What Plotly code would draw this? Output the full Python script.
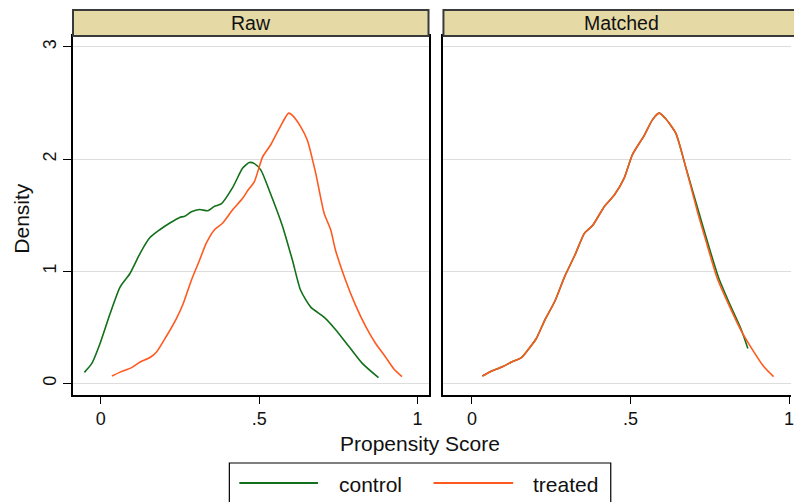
import plotly.graph_objects as go

# Kernel density estimates of the propensity score, before and after matching
raw_control_x = [-0.052, -0.028, -0.002, 0.029, 0.061, 0.092, 0.124, 0.155, 0.186, 0.218,
                 0.249, 0.265, 0.286, 0.312, 0.338, 0.359, 0.380, 0.417, 0.448, 0.469,
                 0.485, 0.506, 0.532, 0.574, 0.605, 0.631, 0.663, 0.705, 0.741, 0.783,
                 0.825, 0.877]
raw_control_y = [0.098, 0.18, 0.36, 0.62, 0.86, 0.98, 1.16, 1.30, 1.37, 1.43,
                 1.48, 1.49, 1.53, 1.55, 1.54, 1.58, 1.60, 1.75, 1.92, 1.97,
                 1.96, 1.90, 1.72, 1.40, 1.10, 0.83, 0.68, 0.59, 0.48, 0.33,
                 0.18, 0.05]

raw_treated_x = [0.035, 0.061, 0.097, 0.124, 0.155, 0.176, 0.207, 0.239, 0.260, 0.286,
                 0.312, 0.333, 0.359, 0.385, 0.417, 0.448, 0.464, 0.485, 0.511, 0.537,
                 0.563, 0.593, 0.605, 0.631, 0.652, 0.679, 0.705, 0.726, 0.741, 0.773,
                 0.804, 0.836, 0.867, 0.898, 0.925, 0.951]
raw_treated_y = [0.065, 0.10, 0.14, 0.19, 0.23, 0.28, 0.42, 0.58, 0.71, 0.92,
                 1.10, 1.25, 1.37, 1.43, 1.55, 1.65, 1.72, 1.80, 2.02, 2.13,
                 2.27, 2.41, 2.39, 2.29, 2.17, 1.87, 1.52, 1.37, 1.19, 0.92,
                 0.70, 0.51, 0.36, 0.24, 0.13, 0.06]

matched_treated_x = [0.033, 0.062, 0.098, 0.125, 0.156, 0.177, 0.203, 0.229, 0.261, 0.292,
                     0.324, 0.355, 0.381, 0.418, 0.449, 0.480, 0.506, 0.543, 0.569, 0.590,
                     0.611, 0.643, 0.674, 0.712, 0.742, 0.773, 0.810, 0.847, 0.878, 0.920,
                     0.951]
matched_treated_y = [0.065, 0.11, 0.15, 0.19, 0.23, 0.30, 0.40, 0.56, 0.73, 0.95,
                     1.14, 1.34, 1.41, 1.58, 1.68, 1.83, 2.04, 2.21, 2.35, 2.41,
                     2.36, 2.23, 1.93, 1.52, 1.23, 0.94, 0.70, 0.48, 0.33, 0.15,
                     0.06]

matched_control_x = [0.033, 0.062, 0.098, 0.125, 0.156, 0.177, 0.203, 0.229, 0.261, 0.292,
                     0.324, 0.355, 0.381, 0.418, 0.449, 0.480, 0.506, 0.543, 0.569, 0.590,
                     0.611, 0.643, 0.674, 0.716, 0.746, 0.778, 0.814, 0.849, 0.870]
matched_control_y = [0.065, 0.11, 0.15, 0.19, 0.23, 0.30, 0.40, 0.56, 0.73, 0.95,
                     1.14, 1.34, 1.41, 1.58, 1.68, 1.83, 2.04, 2.21, 2.35, 2.41,
                     2.36, 2.23, 1.93, 1.52, 1.23, 0.94, 0.70, 0.48, 0.31]

panel_titles = ["Raw", "Matched"]
series_names = ["control", "treated"]
x_tick_vals = [0, 0.5, 1]
x_tick_text = ["0", ".5", "1"]
y_tick_vals = [0, 1, 2, 3]
y_tick_text = ["0", "1", "2", "3"]

GREEN = "#13701a"
ORANGE = "#ff5a1e"
STRIP = "#e5d9a6"
FONT = "Liberation Sans, Arial, Helvetica, sans-serif"

W, H = 794, 502
ML, MR, MT, MB = 73, 0, 10, 107


def px_x(p):
    return (p - ML) / (W - ML - MR)


def px_y(p):
    return (H - MB - p) / (H - MT - MB)


fig = go.Figure()

line_kw = dict(mode="lines", line_shape="spline", hoverinfo="skip", showlegend=False)
fig.add_trace(go.Scatter(x=raw_control_x, y=raw_control_y, xaxis="x", yaxis="y",
                         line=dict(color=GREEN, width=1.6, smoothing=0.6), name=series_names[0], **line_kw))
fig.add_trace(go.Scatter(x=raw_treated_x, y=raw_treated_y, xaxis="x", yaxis="y",
                         line=dict(color=ORANGE, width=1.6, smoothing=0.6), name=series_names[1], **line_kw))
fig.add_trace(go.Scatter(x=matched_control_x, y=matched_control_y, xaxis="x2", yaxis="y2",
                         line=dict(color=GREEN, width=1.6, smoothing=0.6), name=series_names[0], **line_kw))
fig.add_trace(go.Scatter(x=matched_treated_x, y=matched_treated_y, xaxis="x2", yaxis="y2",
                         line=dict(color=ORANGE, width=1.6, smoothing=0.6), name=series_names[1], **line_kw))

ydom = [0, px_y(36)]
tickfont = dict(family=FONT, size=18, color="#111111")

xcommon = dict(tickvals=x_tick_vals, ticktext=x_tick_text, ticks="outside", ticklen=7,
               tickwidth=1.2, tickcolor="#000000", showgrid=False, zeroline=False,
               showline=True, linecolor="#000000", linewidth=1.5, mirror=True,
               tickfont=tickfont, ticklabeloverflow="allow")
ycommon = dict(range=[-0.104, 3.098], tickvals=y_tick_vals, showgrid=True,
               gridcolor="#dddddd", gridwidth=1.2, zeroline=False, domain=ydom)

fig.update_layout(
    width=W, height=H,
    margin=dict(l=ML, r=MR, t=MT, b=MB),
    paper_bgcolor="white", plot_bgcolor="white",
    font=dict(family=FONT, color="#111111"),
    showlegend=False,
    xaxis=dict(domain=[0, px_x(430)], range=[-0.088, 1.035], anchor="y", **xcommon),
    xaxis2=dict(domain=[px_x(445), 1], range=[-0.0898, 1.006], anchor="y2", **xcommon),
    yaxis=dict(anchor="x", ticktext=y_tick_text, ticks="outside", ticklen=8, tickwidth=1.2,
               tickcolor="#000000", tickangle=-90, tickfont=tickfont, ticklabelstandoff=0,
               showline=True, linecolor="#000000", linewidth=1.5, mirror=True, **ycommon),
    yaxis2=dict(anchor="x2", showticklabels=False, ticks="",
                showline=True, linecolor="#000000", linewidth=1.5, mirror=False, **ycommon),
)

shapes = []
annotations = []

# Panel header strips
for (x0, x1, title, cx) in [(73, 430, panel_titles[0], 251.5), (445, 803, panel_titles[1], 624)]:
    shapes.append(dict(type="rect", xref="paper", yref="paper",
                       x0=px_x(x0), x1=px_x(x1), y0=px_y(36), y1=px_y(10),
                       fillcolor=STRIP, line=dict(color="#3a3a3a", width=2), layer="above"))
    annotations.append(dict(text=title, xref="paper", yref="paper", x=px_x(cx), y=px_y(23),
                            xanchor="center", yanchor="middle", showarrow=False,
                            font=dict(family=FONT, size=19.5, color="#111111")))

# Axis titles
annotations.append(dict(text="Propensity Score", xref="paper", yref="paper",
                        x=px_x(421.5), y=px_y(443), xanchor="center", yanchor="middle",
                        showarrow=False, font=dict(family=FONT, size=21, color="#111111")))
annotations.append(dict(text="Density", xref="paper", yref="paper", textangle=-90,
                        x=px_x(21.5), y=px_y(218), xanchor="center", yanchor="middle",
                        showarrow=False, font=dict(family=FONT, size=21, color="#111111")))

# Legend box with keys
shapes.append(dict(type="rect", xref="paper", yref="paper",
                   x0=px_x(230), x1=px_x(613), y0=px_y(530), y1=px_y(463),
                   fillcolor="white", line=dict(color="#000000", width=1.2)))
for (lx0, lx1, tx, color, name) in [(240, 319, 338, GREEN, series_names[0]),
                                    (435, 515, 533, ORANGE, series_names[1])]:
    shapes.append(dict(type="line", xref="paper", yref="paper",
                       x0=px_x(lx0), x1=px_x(lx1), y0=px_y(483), y1=px_y(483),
                       line=dict(color=color, width=1.8)))
    annotations.append(dict(text=name, xref="paper", yref="paper", x=px_x(tx), y=px_y(484),
                            xanchor="left", yanchor="middle", showarrow=False,
                            font=dict(family=FONT, size=21, color="#111111")))

fig.update_layout(shapes=shapes, annotations=annotations)

fig.write_html("out.html")
